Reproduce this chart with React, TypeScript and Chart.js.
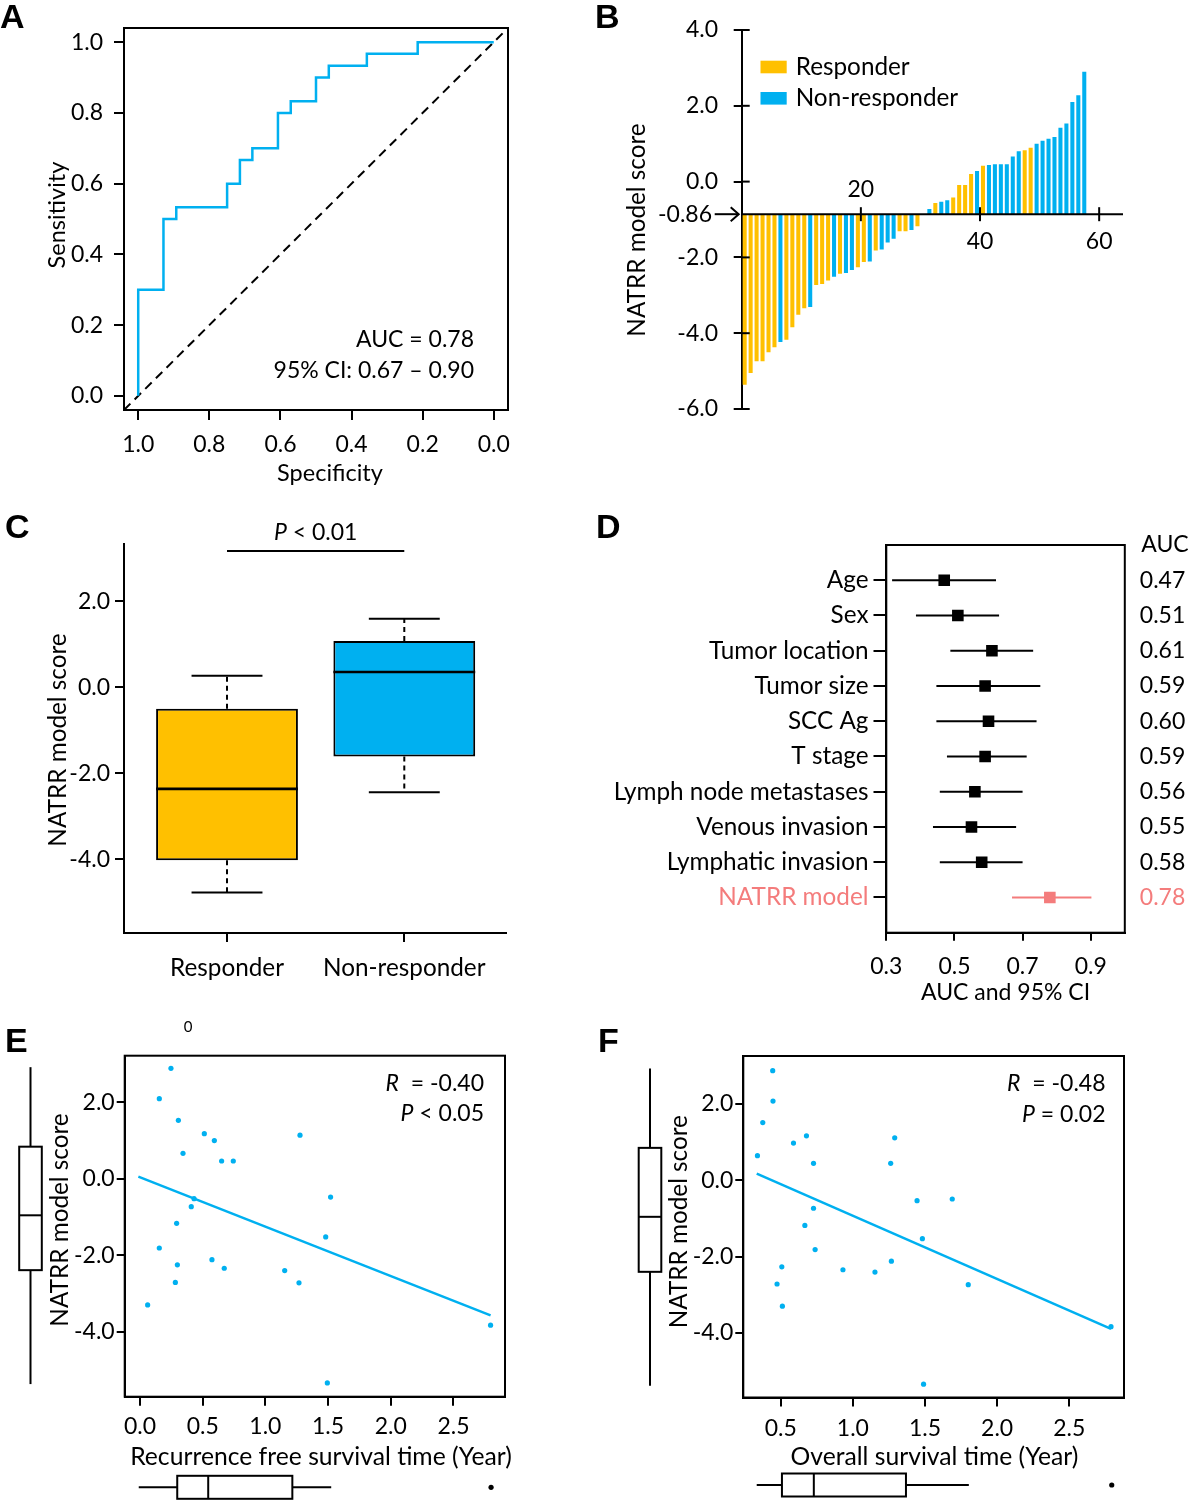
import React, { useEffect, useRef } from 'react';
import { Chart, registerables } from 'chart.js';

Chart.register(...registerables);

const FONT = "Lato, 'Liberation Sans', sans-serif";
const FS = 23;
const WS = 24.3;
const INK = '#000000';
const YEL = '#FFC000';
const BLU = '#00B0F0';
const CORAL = '#F47C7C';

// ---------- Panel A: ROC ----------
const rocSpecificity = [1, 1, 0.929, 0.893, 0.75, 0.714, 0.679, 0.607, 0.571, 0.5, 0.464, 0.357, 0.214, 0];
const rocSensitivity = [0, 0.3, 0.5, 0.533, 0.6, 0.667, 0.7, 0.8, 0.833, 0.9, 0.933, 0.967, 1, 1];
const chanceSpecificity = [1.04, -0.04];
const chanceSensitivity = [-0.04, 1.04];
const rocTicks = [0, 0.2, 0.4, 0.6, 0.8, 1.0];
const rocAucText = 'AUC = 0.78';
const rocCiText = '95% CI: 0.67 \u2013 0.90';

// ---------- Panel B: waterfall ----------
const waterfallScores = [
  -5.36, -5.05, -4.74, -4.74, -4.5, -4.37, -4.23, -4.17, -3.84, -3.51,
  -3.34, -3.31, -2.73, -2.7, -2.61, -2.51, -2.43, -2.41, -2.33, -2.26,
  -2.12, -2.11, -1.82, -1.79, -1.61, -1.51, -1.31, -1.31, -1.28, -1.18,
  -0.86, -0.72, -0.565, -0.53, -0.495, -0.42, -0.09, -0.09, 0.2, 0.28,
  0.42, 0.44, 0.455, 0.46, 0.46, 0.66, 0.8, 0.83, 0.895, 1.0,
  1.08, 1.13, 1.18, 1.42, 1.53, 2.1, 2.28, 2.9,
];
const waterfallGroups = [
  'R', 'R', 'R', 'R', 'R', 'R', 'N', 'R', 'R', 'R',
  'R', 'N', 'R', 'R', 'R', 'N', 'R', 'N', 'N', 'R',
  'R', 'N', 'R', 'N', 'N', 'N', 'R', 'R', 'N', 'R',
  'N', 'N', 'R', 'N', 'N', 'R', 'R', 'R', 'R', 'N',
  'R', 'N', 'N', 'N', 'N', 'N', 'N', 'R', 'R', 'N',
  'N', 'N', 'N', 'N', 'N', 'N', 'N', 'N',
];
const groupCodes = ['R', 'N'];
const groupNames = ['Responder', 'Non-responder'];
const groupColors = [YEL, BLU];
const cutoffB = -0.86;
const waterfallYTicks = [-6, -4, -2, 0, 2, 4];
const waterfallXTicks = [20, 40, 60];

// ---------- Panel C: boxplot ----------
const boxLow = [-4.77, -2.44];
const boxQ1 = [-4.02, -1.61];
const boxMedian = [-2.36, 0.356];
const boxQ3 = [-0.5, 1.077];
const boxHigh = [0.27, 1.59];
const boxYTicks = [-4, -2, 0, 2];
const boxPText = ' < 0.01';

// ---------- Panel D: forest ----------
const forestFactors = ['Age', 'Sex', 'Tumor location', 'Tumor size', 'SCC Ag', 'T stage', 'Lymph node metastases', 'Venous invasion', 'Lymphatic invasion', 'NATRR model'];
const forestAuc = [0.47, 0.51, 0.61, 0.59, 0.6, 0.59, 0.56, 0.55, 0.58, 0.78];
const forestLow = [0.317, 0.387, 0.488, 0.447, 0.447, 0.478, 0.457, 0.437, 0.457, 0.669];
const forestHigh = [0.622, 0.631, 0.731, 0.752, 0.741, 0.712, 0.7, 0.681, 0.7, 0.902];
const forestHighlight = 'NATRR model';
const forestXTicks = [0.3, 0.5, 0.7, 0.9];

// ---------- Panel E: RFS scatter ----------
const rfsTime = [0.247, 0.154, 0.306, 0.513, 0.593, 1.276, 0.343, 0.651, 0.744, 0.431, 0.409, 1.52, 0.292, 1.481, 0.154, 0.574, 0.298, 0.672, 1.154, 0.282, 1.268, 0.061, 2.796, 1.494];
const rfsScore = [2.89, 2.095, 1.53, 1.18, 1.0, 1.14, 0.666, 0.466, 0.466, -0.52, -0.73, -0.477, -1.165, -1.52, -1.81, -2.115, -2.25, -2.34, -2.4, -2.71, -2.72, -3.3, -3.83, -5.34];
const rfsFitX = [-0.013, 2.796];
const rfsFitY = [0.056, -3.571];
const rfsScoreBox = [-5.37, -2.39, -0.955, 0.84, 2.92];
const rfsTimeBox = [-0.01, 0.297, 0.544, 1.215, 1.525];
const rfsTimeOutliers = [2.8];
const rfsXTicks = [0, 0.5, 1.0, 1.5, 2.0, 2.5];

// ---------- Panel F: OS scatter ----------
const osTime = [0.444, 0.446, 0.375, 0.678, 0.588, 1.29, 0.338, 0.727, 1.262, 1.445, 1.689, 0.727, 0.667, 1.482, 0.738, 1.267, 0.507, 0.931, 1.153, 0.474, 1.8, 0.511, 2.79, 1.49];
const osScore = [2.866, 2.07, 1.506, 1.16, 0.97, 1.108, 0.64, 0.44, 0.44, -0.537, -0.494, -0.736, -1.186, -1.532, -1.818, -2.121, -2.268, -2.346, -2.407, -2.719, -2.736, -3.3, -3.835, -5.342];
const osFitX = [0.333, 2.79];
const osFitY = [0.173, -3.896];
const osScoreBox = [-5.38, -2.4, -0.96, 0.845, 2.92];
const osTimeBox = [0.333, 0.508, 0.729, 1.368, 1.804];
const osTimeOutliers = [2.795];
const osXTicks = [0.5, 1.0, 1.5, 2.0, 2.5];

const scatterYTicks = [-4, -2, 0, 2];

// ---------- helpers ----------
const f1 = (v: number) => v.toFixed(1);

function common() {
  return {
    responsive: false,
    animation: false,
    devicePixelRatio: 1,
    events: [],
    plugins: { legend: { display: false }, tooltip: { enabled: false } },
  };
}

function scale(o: any) {
  return {
    type: 'linear',
    min: o.min,
    max: o.max,
    reverse: !!o.reverse,
    position: o.position,
    offset: false,
    display: o.display === undefined ? true : o.display,
    afterBuildTicks: (s: any) => { s.ticks = o.ticks.map((v: number) => ({ value: v })); },
    afterFit: (s: any) => { if (o.fit !== undefined) { if (o.horizontal) s.height = o.fit; else s.width = o.fit; } },
    ticks: {
      callback: (v: any) => o.fmt(Number(v)),
      font: { family: FONT, size: o.size || FS },
      color: o.color || INK,
      padding: o.pad,
      autoSkip: false,
      maxRotation: 0,
      minRotation: 0,
    },
    grid: o.noTicks
      ? { display: false, drawTicks: false, offset: false }
      : { display: true, drawOnChartArea: false, drawTicks: true, tickLength: o.len, color: INK, lineWidth: 2, offset: false },
    border: { display: o.border !== false, color: INK, width: 2 },
  };
}

function seg(ctx: any, x1: number, y1: number, x2: number, y2: number, w = 2, color = INK, dash: number[] = []) {
  ctx.save();
  ctx.strokeStyle = color;
  ctx.lineWidth = w;
  ctx.setLineDash(dash);
  ctx.beginPath();
  ctx.moveTo(x1, y1);
  ctx.lineTo(x2, y2);
  ctx.stroke();
  ctx.restore();
}

function txt(ctx: any, s: string, x: number, y: number, o: any = {}) {
  ctx.save();
  ctx.font = `${o.italic ? 'italic ' : ''}${o.weight || 'normal'} ${o.size || FS}px ${o.family || FONT}`;
  ctx.fillStyle = o.color || INK;
  ctx.textAlign = o.align || 'left';
  ctx.textBaseline = 'middle';
  ctx.translate(x, y);
  if (o.rot) ctx.rotate(o.rot);
  ctx.fillText(s, 0, 0);
  ctx.restore();
}

function rich(ctx: any, parts: [string, boolean][], x: number, y: number, align: string, size = FS) {
  ctx.save();
  const fonts = parts.map(([, it]) => `${it ? 'italic ' : ''}${size}px ${FONT}`);
  let total = 0;
  const widths = parts.map(([t], i) => { ctx.font = fonts[i]; const w = ctx.measureText(t).width; total += w; return w; });
  let cx = align === 'left' ? x : align === 'right' ? x - total : x - total / 2;
  ctx.textBaseline = 'middle';
  ctx.textAlign = 'left';
  ctx.fillStyle = INK;
  parts.forEach(([t], i) => { ctx.font = fonts[i]; ctx.fillText(t, cx, y); cx += widths[i]; });
  ctx.restore();
}

function frameArea(chart: any) {
  const { ctx, chartArea: a } = chart;
  ctx.save();
  ctx.strokeStyle = INK;
  ctx.lineWidth = 2;
  ctx.strokeRect(a.left, a.top, a.right - a.left, a.bottom - a.top);
  ctx.restore();
}

function panelLetter(ctx: any, s: string, x: number, y: number) {
  ctx.save();
  ctx.font = "bold 34px 'Liberation Sans', Arial, sans-serif";
  ctx.fillStyle = INK;
  ctx.textAlign = 'left';
  ctx.textBaseline = 'alphabetic';
  ctx.fillText(s, x, y);
  ctx.restore();
}

function vBox(ctx: any, ys: any, st: number[], xc: number, hw: number) {
  const p = st.map((v) => ys.getPixelForValue(v));
  seg(ctx, xc, p[0], xc, p[1]);
  seg(ctx, xc, p[3], xc, p[4]);
  ctx.save();
  ctx.strokeStyle = INK;
  ctx.lineWidth = 2;
  ctx.strokeRect(xc - hw, p[3], 2 * hw, p[1] - p[3]);
  ctx.restore();
  seg(ctx, xc - hw, p[2], xc + hw, p[2]);
}

function hBox(ctx: any, xs: any, st: number[], out: number[], yc: number, hh: number) {
  const p = st.map((v) => xs.getPixelForValue(v));
  seg(ctx, p[0], yc, p[1], yc);
  seg(ctx, p[3], yc, p[4], yc);
  ctx.save();
  ctx.strokeStyle = INK;
  ctx.lineWidth = 2;
  ctx.strokeRect(p[1], yc - hh, p[3] - p[1], 2 * hh);
  ctx.fillStyle = INK;
  out.forEach((v) => { ctx.beginPath(); ctx.arc(xs.getPixelForValue(v), yc, 2.6, 0, Math.PI * 2); ctx.fill(); });
  ctx.restore();
  seg(ctx, p[2], yc - hh, p[2], yc + hh);
}

// ---------- configs ----------
function configA(): any {
  return {
    type: 'line',
    data: {
      datasets: [
        { label: 'ROC', data: rocSpecificity.map((x, i) => ({ x, y: rocSensitivity[i] })), borderColor: BLU, borderWidth: 2.5, pointRadius: 0, stepped: 'before', fill: false },
        { label: 'Chance', data: chanceSpecificity.map((x, i) => ({ x, y: chanceSensitivity[i] })), borderColor: INK, borderWidth: 2, borderDash: [9, 6], pointRadius: 0, fill: false },
      ],
    },
    options: {
      ...common(),
      layout: { padding: { left: 0, top: 28, right: 86, bottom: 0 } },
      scales: {
        x: scale({ min: -0.04, max: 1.04, reverse: true, ticks: rocTicks, fmt: f1, len: 10, pad: 11, fit: 95, horizontal: true }),
        y: scale({ min: -0.04, max: 1.04, ticks: rocTicks, fmt: f1, len: 10, pad: 11, fit: 124 }),
      },
    },
    plugins: [{
      id: 'decoA',
      afterDraw(chart: any) {
        const ctx = chart.ctx;
        frameArea(chart);
        txt(ctx, rocAucText, 474, 340, { align: 'right' });
        txt(ctx, rocCiText, 474, 371, { align: 'right' });
        txt(ctx, 'Sensitivity', 57, 215, { align: 'center', rot: -Math.PI / 2, size: 23.5 });
        txt(ctx, 'Specificity', 330, 473, { align: 'center', size: 23.5 });
        panelLetter(ctx, 'A', 0, 28);
      },
    }],
  };
}

function configB(): any {
  const datasets = groupCodes.map((g, gi) => ({
    label: groupNames[gi],
    data: waterfallScores.map((y, i) => ({ x: i + 0.5, y, g: waterfallGroups[i] })).filter((d) => d.g === g),
    backgroundColor: groupColors[gi],
    borderWidth: 0,
    base: cutoffB,
    grouped: false,
    barPercentage: 0.68,
    categoryPercentage: 1,
  }));
  return {
    type: 'bar',
    data: { datasets },
    options: {
      ...common(),
      layout: { padding: { left: 0, top: 30, right: 65, bottom: 96 } },
      scales: {
        x: scale({ min: 0, max: 64, ticks: waterfallXTicks, fmt: (v: number) => String(v), len: 8, pad: 4, display: false, horizontal: true }),
        y: scale({ min: -6, max: 4, ticks: waterfallYTicks, fmt: f1, len: 8, pad: 15.7, fit: 147.7 }),
      },
    },
    plugins: [{
      id: 'decoB',
      afterDraw(chart: any) {
        const { ctx, chartArea: a, scales } = chart;
        const xs = scales.x;
        const ys = scales.y;
        const yb = ys.getPixelForValue(cutoffB);
        seg(ctx, a.left, yb, a.right, yb, 2);
        waterfallXTicks.forEach((v) => {
          const px = xs.getPixelForValue(v);
          seg(ctx, px, yb - 7, px, yb + 7, 2);
          const barVal = waterfallScores[v - 1];
          const above = barVal !== undefined && barVal < cutoffB;
          txt(ctx, String(v), px, above ? yb - 25 : yb + 27, { align: 'center' });
        });
        waterfallYTicks.forEach((v) => {
          const py = ys.getPixelForValue(v);
          seg(ctx, a.left, py, a.left + 8, py, 2);
        });
        txt(ctx, cutoffB.toFixed(2), a.left - 29.7, yb, { align: 'right' });
        seg(ctx, a.left - 27, yb, a.left - 3, yb, 2);
        ctx.save();
        ctx.strokeStyle = INK;
        ctx.lineWidth = 2;
        ctx.beginPath();
        ctx.moveTo(a.left - 11, yb - 7);
        ctx.lineTo(a.left - 3, yb);
        ctx.lineTo(a.left - 11, yb + 7);
        ctx.stroke();
        ctx.restore();
        chart.data.datasets.forEach((d: any, i: number) => {
          const y0 = 60.7 + i * 31.3;
          ctx.fillStyle = d.backgroundColor;
          ctx.fillRect(166.5, y0, 26.2, 12.6);
          txt(ctx, d.label, 201.7, y0 + 6, { size: WS });
        });
        txt(ctx, 'NATRR model score', 43.5, 230, { align: 'center', rot: -Math.PI / 2, size: WS });
        panelLetter(ctx, 'B', 1, 28);
      },
    }],
  };
}

function configC(): any {
  return {
    type: 'bar',
    data: {
      datasets: [{
        label: 'box',
        data: groupNames.map((_, i) => ({ x: i + 1, y: [boxQ1[i], boxQ3[i]] })),
        backgroundColor: groupColors,
        borderColor: INK,
        borderWidth: 2,
        borderSkipped: false,
        barPercentage: 0.8,
        categoryPercentage: 1,
      }],
    },
    options: {
      ...common(),
      layout: { padding: { left: 0, top: 39, right: 88.3, bottom: 0 } },
      scales: {
        x: scale({ min: 0.419, max: 2.572, ticks: [1, 2], fmt: (v: number) => groupNames[v - 1], len: 9, pad: 11.2, fit: 77, horizontal: true, size: WS }),
        y: scale({ min: -5.71, max: 3.33, ticks: boxYTicks, fmt: f1, len: 9, pad: 5, fit: 124 }),
      },
    },
    plugins: [{
      id: 'decoC',
      afterDatasetsDraw(chart: any) {
        const { ctx, scales } = chart;
        const xs = scales.x;
        const ys = scales.y;
        const meta = chart.getDatasetMeta(0);
        groupNames.forEach((_, i) => {
          const el = meta.data[i];
          const hw = el.width / 2;
          const cx = xs.getPixelForValue(i + 1);
          const pm = ys.getPixelForValue(boxMedian[i]);
          seg(ctx, cx - hw, pm, cx + hw, pm, 2.6);
          const pq1 = ys.getPixelForValue(boxQ1[i]);
          const pq3 = ys.getPixelForValue(boxQ3[i]);
          const pl = ys.getPixelForValue(boxLow[i]);
          const ph = ys.getPixelForValue(boxHigh[i]);
          seg(ctx, cx, pq3, cx, ph, 2, INK, [5, 4]);
          seg(ctx, cx, pq1, cx, pl, 2, INK, [5, 4]);
          seg(ctx, cx - hw / 2, ph, cx + hw / 2, ph, 2);
          seg(ctx, cx - hw / 2, pl, cx + hw / 2, pl, 2);
        });
        const x1 = xs.getPixelForValue(1);
        const x2 = xs.getPixelForValue(2);
        seg(ctx, x1, 46, x2, 46, 2);
        rich(ctx, [['P', true], [boxPText, false]], (x1 + x2) / 2, 28, 'center');
        txt(ctx, 'NATRR model score', 58, 235, { align: 'center', rot: -Math.PI / 2, size: WS });
        panelLetter(ctx, 'C', 5, 33);
      },
    }],
  };
}

function configD(): any {
  const tickColor = (c: any) => (c.tick && forestFactors[c.tick.value - 1] === forestHighlight ? CORAL : INK);
  const rows = forestFactors.map((_, i) => i + 1);
  const yLeft: any = scale({ min: 0, max: 11, reverse: true, ticks: rows, fmt: (v: number) => forestFactors[v - 1], len: 12.8, pad: 5, fit: 292.3, size: WS });
  yLeft.ticks.color = tickColor;
  const yRight: any = scale({ min: 0, max: 11, reverse: true, ticks: rows, fmt: (v: number) => forestAuc[v - 1].toFixed(2), noTicks: true, pad: 15, fit: 63.2, position: 'right', border: false });
  yRight.ticks.color = tickColor;
  const xAx: any = scale({ min: 0.3, max: 1.0, ticks: forestXTicks, fmt: f1, len: 8, pad: 12.2, fit: 77.3, horizontal: true });
  xAx.title = { display: true, text: 'AUC and 95% CI', font: { family: FONT, size: FS }, color: INK, padding: { top: 0, bottom: 3.2 } };
  return {
    type: 'scatter',
    data: {
      datasets: [{
        label: 'AUC',
        data: forestAuc.map((x, i) => ({ x, y: i + 1 })),
        pointStyle: 'rect',
        pointRadius: 8.2,
        pointBorderWidth: 0,
        pointBackgroundColor: forestFactors.map((f) => (f === forestHighlight ? CORAL : INK)),
      }],
    },
    options: {
      ...common(),
      layout: { padding: { left: 0, top: 40, right: 0, bottom: 0 } },
      scales: { x: xAx, y: yLeft, y2: yRight },
    },
    plugins: [{
      id: 'decoD',
      beforeDatasetsDraw(chart: any) {
        const { ctx, scales } = chart;
        forestFactors.forEach((f, i) => {
          const py = scales.y.getPixelForValue(i + 1);
          seg(ctx, scales.x.getPixelForValue(forestLow[i]), py, scales.x.getPixelForValue(forestHigh[i]), py, 2, f === forestHighlight ? CORAL : INK);
        });
      },
      afterDraw(chart: any) {
        const ctx = chart.ctx;
        frameArea(chart);
        txt(ctx, 'AUC', 571, 40, { align: 'center' });
        panelLetter(ctx, 'D', 2, 33);
      },
    }],
  };
}

function configScatter(p: any): any {
  return {
    type: 'scatter',
    data: {
      datasets: [
        { label: 'patients', data: p.xs.map((x: number, i: number) => ({ x, y: p.ys[i] })), pointRadius: 2.6, pointBorderWidth: 0, pointBackgroundColor: BLU },
        { label: 'fit', data: p.fx.map((x: number, i: number) => ({ x, y: p.fy[i] })), showLine: true, pointRadius: 0, borderColor: BLU, borderWidth: 2.5 },
      ],
    },
    options: {
      ...common(),
      layout: { padding: { left: 0, top: p.top, right: p.right, bottom: 0 } },
      scales: {
        x: scale({ min: p.xmin, max: p.xmax, ticks: p.xticks, fmt: f1, len: 9, pad: p.xpad, fit: p.xh, horizontal: true }),
        y: scale({ min: p.ymin, max: p.ymax, ticks: scatterYTicks, fmt: f1, len: 8, pad: 2, fit: p.yw }),
      },
    },
    plugins: [{
      id: 'decoS',
      afterDraw(chart: any) {
        const { ctx, scales } = chart;
        frameArea(chart);
        rich(ctx, [['R', true], ['  = ' + p.r, false]], p.textX, 73.3, 'right');
        rich(ctx, [['P', true], [p.pv, false]], p.textX, p.pY, 'right');
        txt(ctx, 'NATRR model score', p.ytX, p.ytY, { align: 'center', rot: -Math.PI / 2, size: WS });
        txt(ctx, p.xtitle, p.xtX, 446.7, { align: 'center', size: WS + 0.4 });
        vBox(ctx, scales.y, p.yBox, p.vbX, 11.3);
        hBox(ctx, scales.x, p.xBox, p.xOut, p.hbY, 11.5);
        if (p.extra) txt(ctx, p.extra, 188, 17, { align: 'center', size: 15 });
        panelLetter(ctx, p.letter, p.lx, 42);
      },
    }],
  };
}

function configE(): any {
  return configScatter({
    xs: rfsTime, ys: rfsScore, fx: rfsFitX, fy: rfsFitY,
    top: 45.7, right: 89, xmin: -0.122, xmax: 2.911, ymin: -5.7, ymax: 3.22,
    xticks: rfsXTicks, xpad: 7.2, xh: 103.3, yw: 124.7,
    r: '-0.40', pv: ' < 0.05', textX: 484, pY: 103.3,
    ytX: 60.3, ytY: 210, xtitle: 'Recurrence free survival time (Year)', xtX: 321,
    yBox: rfsScoreBox, vbX: 30.5, xBox: rfsTimeBox, xOut: rfsTimeOutliers, hbY: 477.3,
    extra: '0', letter: 'E', lx: 5,
  });
}

function configF(): any {
  return configScatter({
    xs: osTime, ys: osScore, fx: osFitX, fy: osFitY,
    top: 46, right: 64, xmin: 0.24, xmax: 2.88, ymin: -5.69, ymax: 3.25,
    xticks: osXTicks, xpad: 8, xh: 102.5, yw: 149.3,
    r: '-0.48', pv: ' = 0.02', textX: 511.5, pY: 105,
    ytX: 84.7, ytY: 211.7, xtitle: 'Overall survival time (Year)', xtX: 340.5,
    yBox: osScoreBox, vbX: 56, xBox: osTimeBox, xOut: osTimeOutliers, hbY: 475,
    extra: '', letter: 'F', lx: 4,
  });
}

function Panel(props: { left: number; top: number; width: number; height: number; make: () => any }) {
  const ref = useRef<HTMLCanvasElement>(null);
  useEffect(() => {
    const c = new Chart(ref.current as HTMLCanvasElement, props.make());
    return () => c.destroy();
  }, []);
  const { left, top, width, height } = props;
  return <canvas ref={ref} width={width} height={height} style={{ position: 'absolute', left, top, width, height }} />;
}

export default function App() {
  useEffect(() => {
    document.body.style.margin = '0';
  }, []);
  return (
    <div style={{ position: 'relative', width: 1188, height: 1500, background: '#fff', overflow: 'hidden' }}>
      <Panel left={0} top={0} width={594} height={505} make={configA} />
      <Panel left={594} top={0} width={594} height={505} make={configB} />
      <Panel left={0} top={505} width={594} height={505} make={configC} />
      <Panel left={594} top={505} width={594} height={505} make={configD} />
      <Panel left={0} top={1010} width={594} height={490} make={configE} />
      <Panel left={594} top={1010} width={594} height={490} make={configF} />
    </div>
  );
}
